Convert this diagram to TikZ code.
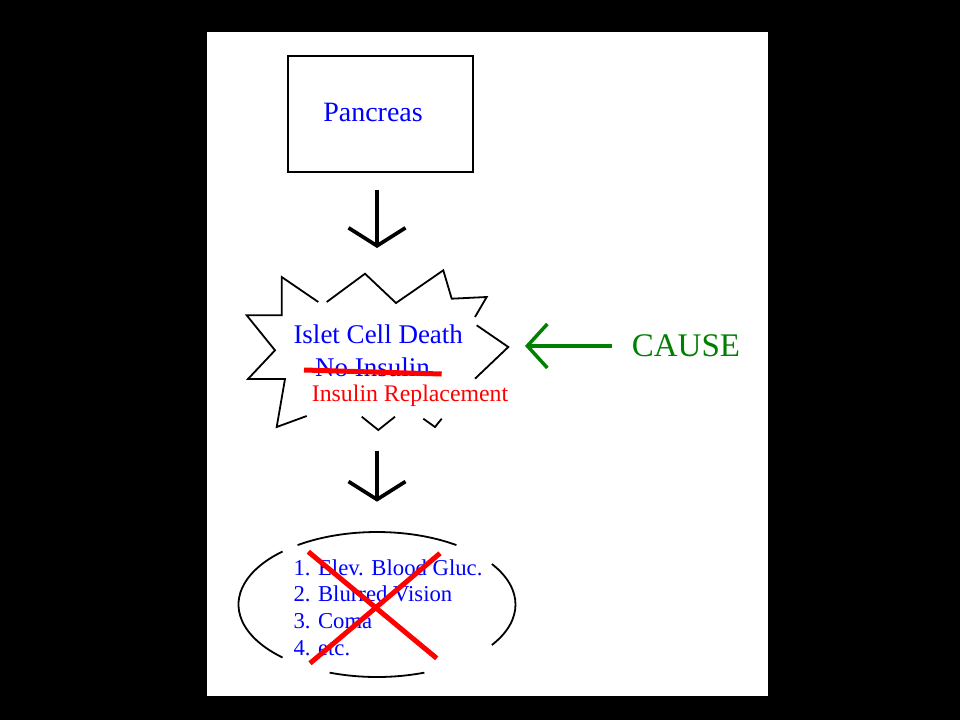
\documentclass[tikz,border=0pt]{standalone}
\usepackage{fontspec}
\setmainfont{Liberation Serif}
\usetikzlibrary{arrows.meta,positioning}
\definecolor{causegreen}{RGB}{0,128,0}
\tikzset{
  box/.style={draw, line width=1.3pt, minimum width=185pt, minimum height=116pt,
    inner sep=0pt, outer sep=0pt, text=blue, font=\fontsize{28}{34}\selectfont},
  txt/.style={text=blue, inner sep=0pt, anchor=base west},
  downarr/.style={line width=3.7pt, -{Straight Barb[length=18pt,width=57pt]}},
  causearr/.style={causegreen, line width=3.5pt, -{Straight Barb[length=20pt,width=44pt]}},
  outline/.style={line width=1.8pt},
  strike/.style={red, line width=5pt},
}
\begin{document}
\begin{tikzpicture}[x=1pt,y=-1pt]
  \useasboundingbox (0,0) rectangle (960,720);
  \fill[black] (0,0) rectangle (960,720);
  \fill[white] (207,32) rectangle (768,696);

  \node (pancreas) [box] at (380.5,114) {\hspace*{-15pt}\raisebox{4pt}{Pancreas}};
  \coordinate (burst) at (377,350);
  \coordinate (signs) at (377,604.5);

  % starburst, drawn piece by piece
  \draw[outline] (318.3,302) -- (281.7,277) -- (281.7,315.3) -- (246.7,315.3)
    -- (275,350.3) -- (248,379) -- (285,379) -- (276.7,427) -- (306.7,416);
  \draw[outline] (326.7,302) -- (365,273.7) -- (396,303) -- (443.3,270.3)
    -- (451.7,298.7) -- (486.7,297) -- (475,317);
  \draw[outline] (476.7,325.3) -- (508.3,347) -- (475,378.7);
  \draw[outline] (361.7,416.7) -- (378.3,430) -- (395,416.7);
  \draw[outline] (423.3,418.7) -- (435,427) -- (441.7,418.7);

  \node (islet) [txt, font=\fontsize{27}{32}\selectfont] at (293.3,343) {Islet Cell Death};
  \node (noins) [txt, font=\fontsize{27}{32}\selectfont] at (315,376.7) {No Insulin};
  \node (repl) [txt, text=red, font=\fontsize{23.8}{28}\selectfont] at (311.7,401.7) {Insulin Replacement};
  \draw[strike] (304,370) -- (441.7,374);

  \node (cause) [txt, text=causegreen, font=\fontsize{33}{39}\selectfont] at (631.7,356.7) {CAUSE};

  % ellipse, with its gaps
  \foreach \a/\b in {55/125, 133/227, 250/290, -34/34}
    \draw[outline] ([shift={(\a:138.5pt and 72.5pt)}]signs)
      arc[start angle=\a, end angle=\b, x radius=138.5pt, y radius=72.5pt];

  \node (l1) [txt, font=\fontsize{22.7}{27}\selectfont] at (293.3,575) {1. Elev. Blood Gluc.};
  \node (l2) [txt, font=\fontsize{22.7}{27}\selectfont, below=26.7pt of l1.base west, anchor=base west] {2. Blurred Vision};
  \node (l3) [txt, font=\fontsize{22.7}{27}\selectfont, below=26.7pt of l2.base west, anchor=base west] {3. Coma};
  \node (l4) [txt, font=\fontsize{22.7}{27}\selectfont, below=26.7pt of l3.base west, anchor=base west] {4. etc.};
  \draw[strike] (308.3,551.7) -- (436.7,658.3);
  \draw[strike] (440,553.3) -- (310,663.3);

  \draw[downarr, shorten <=18pt, shorten >=102pt] (pancreas.south -| burst) -- (burst);
  \draw[downarr, shorten <=100.7pt, shorten >=102.8pt] (burst) -- (signs);
  \draw[causearr, shorten <=20pt, shorten >=148pt] (cause.west) -- (cause.west -| burst);
\end{tikzpicture}
\end{document}
